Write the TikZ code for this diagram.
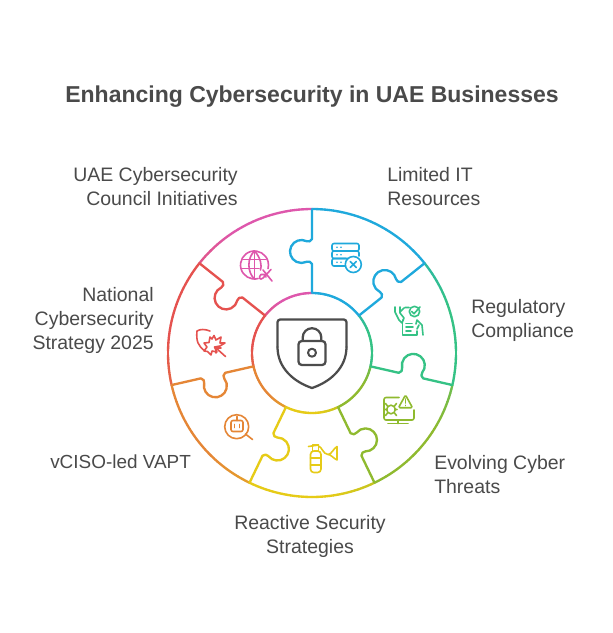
\documentclass[tikz,border=0pt]{standalone}
\usepackage{fontspec}
\setmainfont{Liberation Sans}
\definecolor{cblue}{HTML}{1FA9DC}
\definecolor{cgreen}{HTML}{35C285}
\definecolor{clime}{HTML}{8FBA2F}
\definecolor{cyel}{HTML}{E6CB17}
\definecolor{corg}{HTML}{E58636}
\definecolor{cred}{HTML}{E5524F}
\definecolor{cpink}{HTML}{DE57AC}
\definecolor{ctext}{HTML}{4A4A4A}
\definecolor{cdark}{HTML}{4C4C4C}
\newcommand\ringarc[5]{%
  \foreach \i in {1,...,30}{%
    \pgfmathsetmacro\pa{#2+(#3-#2)*(\i-1)/30}%
    \pgfmathsetmacro\pb{#2+(#3-#2)*\i/30}%
    \pgfmathtruncatemacro\mixv{min(100,\i*100/12)}%
    \draw[piece,color=#5!\mixv!#4] ({312+#1*cos(\pa)},{353-#1*sin(\pa)}) -- ({312+#1*cos(\pb)},{353-#1*sin(\pb)});
  }%
}
\newcommand\wedgearcs[4]{\ringarc{144}{#1}{#2}{#3}{#4}\ringarc{60}{#1}{#2}{#3}{#4}}
% one puzzle spoke, turned clockwise by #1 steps of a seventh of a circle
\newcommand\spoke[2]{%
  \begin{scope}[shift={(312,353)},rotate=-51.4286*#1]
  \draw[piece,color=#2] (0,-144) -- (0,-114) .. controls (-1,-111.5) and (-3.5,-111) .. (-5.46,-111.84)
    arc[start angle=-64,end angle=-296,radius=11.5]
    .. controls (-3.5,-92) and (-1,-91.5) .. (0,-89) -- (0,-60);
  \end{scope}%
}
\tikzset{
  piece/.style={line width=1.75pt,line cap=round,line join=round},
  icon/.style={line width=1.2pt,line cap=round,line join=round},
  lbl/.style={font=\fontsize{14.6}{18}\selectfont,text=ctext,inner sep=0pt},
}
\begin{document}
\begin{tikzpicture}[x=0.75pt,y=-0.75pt]
\useasboundingbox (0,0) rectangle (612,633);
\fill[white] (0,0) rectangle (612,633);
\node[font=\bfseries\fontsize{17.25}{22}\selectfont,text=ctext,inner sep=0pt] (title) at (312,97) {Enhancing Cybersecurity in UAE Businesses};
% arcs
\wedgearcs{90}{38.57}{cblue}{cblue}
\wedgearcs{38.57}{-12.86}{cblue!35!cgreen}{cgreen}
\wedgearcs{-12.86}{-64.29}{cgreen!40!clime}{clime}
\wedgearcs{-64.29}{-115.71}{clime!40!cyel}{cyel}
\wedgearcs{-115.71}{-167.14}{cyel!40!corg}{corg}
\wedgearcs{192.86}{141.43}{corg!40!cred}{cred}
\wedgearcs{141.43}{90}{cred!40!cpink}{cpink}
% connectors with puzzle tabs
\spoke{0}{cblue}
\spoke{1}{cblue}
\spoke{2}{cgreen}
\spoke{3}{clime}
\spoke{4}{cyel}
\spoke{5}{corg}
\spoke{6}{cred}
% central shield
\draw[icon,color=cdark,line width=1.7pt,rounded corners=2pt] (277.5,347) -- (277.5,319.5) -- (346.5,319.5) -- (346.5,347);
\draw[icon,color=cdark,line width=1.7pt] (346.5,347) .. controls (346.5,368) and (330,382) .. (312,388) .. controls (294,382) and (277.5,368) .. (277.5,347);
\draw[icon,color=cdark,line width=1.7pt,rounded corners=2.5pt] (298.5,341) rectangle (325.5,365);
\draw[icon,color=cdark,line width=1.7pt] (302.7,341) -- (302.7,337.5) arc[start angle=180,end angle=360,radius=9.3] -- (321.3,341);
\draw[icon,color=cdark,line width=1.5pt] (312,352.7) circle[radius=4];
% server icon
\begin{scope}[icon,color=cblue]
\draw[rounded corners=1.5pt] (332,243.5) rectangle (359,251);
\draw[rounded corners=1.5pt] (348,258.5) -- (332,258.5) -- (332,251) -- (359,251) -- (359,256);
\draw[rounded corners=1.5pt] (345,266) -- (332,266) -- (332,258.5) -- (346,258.5);
\draw (353.3,264.5) circle[radius=8];
\draw (350.3,261.5) -- (356.3,267.5) (356.3,261.5) -- (350.3,267.5);
\fill (337,247.2) circle[radius=.9] (341,247.2) circle[radius=.9] (337,254.7) circle[radius=.9] (341,254.7) circle[radius=.9] (337,262.2) circle[radius=.9] (341,262.2) circle[radius=.9];
\end{scope}
% compliance icon
\begin{scope}[icon,color=cgreen]
\draw (402.5,320) -- (402.5,335) -- (417,335) -- (417,331);
\draw (406,327) -- (413,327) (406,331) -- (411,331) (406,323.5) -- (412,323.5);
\draw (414.5,311.5) circle[radius=5.2];
\draw (411.8,311.5) -- (414,313.7) -- (420,307);
\draw (400,307) -- (400,313) -- (404,318) -- (402,323) -- (399,320) -- (395,312) -- (395,307);
\draw (400,312) -- (404,308) (405,307.5) -- (409,307.5);
\draw (416,324) -- (417,320) -- (422,325) -- (423,335) (417,329) -- (419,325);
\end{scope}
% threat icon
\begin{scope}[icon,color=clime]
\draw[rounded corners=1.5pt] (399,397.5) -- (384,397.5) -- (384,420) -- (414,420) -- (414,410);
\draw (388,423.5) -- (408,423.5) (398,420) -- (398,423.5);
\draw[rounded corners=1pt,fill=white] (405.5,395) -- (412.5,407.7) -- (398.5,407.7) -- cycle;
\draw (405.5,399) -- (405.5,403) (405.5,405.3) -- (405.5,405.6);
\draw (391,409.5) circle[radius=4.3];
\draw (387,409.5) -- (385,409.5) (395,409.5) -- (397,409.5) (387.5,406) -- (385.5,403.5) (394.5,406) -- (396.5,403.5) (387.5,413) -- (385.5,415.5) (394.5,413) -- (396.5,415.5);
\end{scope}
% extinguisher icon
\begin{scope}[icon,color=cyel]
\draw[rounded corners=2.5pt] (310.5,472.5) rectangle (321,451);
\draw (310.5,458) -- (321,458) (310.5,465) -- (321,465);
\draw (312.5,451) -- (312.5,445) -- (318.5,445) -- (318.5,451);
\draw (308.5,446.5) -- (318.5,445);
\draw (318.5,446) .. controls (322,447) and (323,454) .. (328,454.5) .. controls (332,454) and (333,449) .. (337,446.5) -- (337,460) .. controls (333,458) and (331,454.5) .. (328,454.5);
\end{scope}
% robot magnifier icon
\begin{scope}[icon,color=corg]
\draw (236.7,426.7) circle[radius=12];
\draw (245.5,434) -- (252.5,439.5);
\draw[rounded corners=1.5pt] (231,420.5) rectangle (243,431.5);
\draw (237,416.5) -- (237,420.5);
\draw (234.5,424.5) -- (234.5,427.5) (239.5,424.5) -- (239.5,427.5);
\end{scope}
% shield attack icon
\begin{scope}[icon,color=cred]
\draw (210,331) .. controls (205,329) and (200,329) .. (197,331) .. controls (196,341) and (198,346) .. (205,351);
\draw (214,335.5) -- (216,340) -- (221,337) -- (220,343) -- (225,343) -- (220,346) -- (214.5,347) -- (217,352) -- (212,351) -- (211,355) -- (207.5,351.5) -- (204,351) -- (207,347) -- (204,343) -- (209,342.5) -- (210,337) -- (212,339) -- cycle;
\draw (216,348) -- (225.5,356.5) (216,348) -- (216,353) (216,348) -- (221,348);
\end{scope}
% globe icon
\begin{scope}[icon,color=cpink]
\draw ({254.5+14*cos(75)},{265+14*sin(75)}) arc[start angle=75,end angle=375,radius=14];
\draw (254.5,251) .. controls (247,258) and (247,272) .. (254.5,279);
\draw (254.5,251) .. controls (261,258) and (262,266) .. (260.5,270);
\draw (254.5,251) -- (254.5,279);
\draw (243,259.5) -- (266,259.5) (242,268.5) -- (259,268.5);
\draw (263,270) -- (272,281) (271,269.5) -- (263,278) .. controls (260,281) and (258,277) .. (261,274.5) .. controls (263,273) and (265,275) .. (266,277);
\end{scope}
% labels
\node[lbl,align=right,anchor=east] (l1) at (238,187) {UAE Cybersecurity\\Council Initiatives};
\node[lbl,align=left,anchor=west] (l2) at (387,187) {Limited IT\\Resources};
\node[lbl,align=left,anchor=west] (l3) at (471,320) {Regulatory\\Compliance};
\node[lbl,align=left,anchor=west] (l4) at (434,475) {Evolving Cyber\\Threats};
\node[lbl,align=center] (l5) at (310,536) {Reactive Security\\Strategies};
\node[lbl,anchor=west,font=\fontsize{14.2}{18}\selectfont] (l6) at (50,462) {vCISO-led VAPT};
\node[lbl,align=right,anchor=east] (l7) at (154,320) {National\\Cybersecurity\\Strategy 2025};
\end{tikzpicture}
\end{document}
